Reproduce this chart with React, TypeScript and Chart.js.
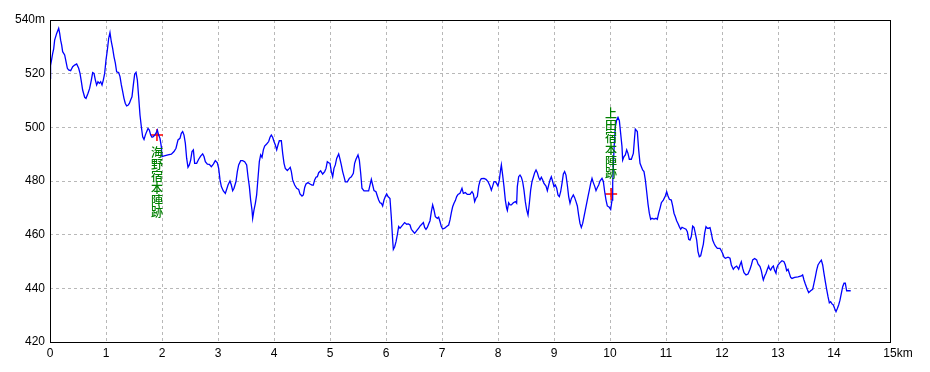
import React, { useEffect, useRef } from "react";
import { Chart, registerables } from "chart.js";

Chart.register(...registerables);

// Distance along the route (km)
const distanceKm = [
  0.0, 0.01, 0.048, 0.065, 0.083, 0.119, 0.155, 0.173, 0.19, 0.208, 0.226, 0.262, 0.286, 0.31, 0.333, 0.369,
  0.405, 0.44, 0.476, 0.512, 0.536, 0.56, 0.583, 0.619, 0.643, 0.679, 0.708, 0.738, 0.762, 0.786, 0.81, 0.833,
  0.857, 0.881, 0.905, 0.929, 0.952, 0.976, 1.0, 1.024, 1.048, 1.071, 1.095, 1.119, 1.143, 1.167, 1.19, 1.226,
  1.25, 1.274, 1.298, 1.321, 1.345, 1.369, 1.393, 1.417, 1.44, 1.464, 1.488, 1.512, 1.536, 1.56, 1.583, 1.607,
  1.631, 1.655, 1.679, 1.702, 1.726, 1.75, 1.774, 1.798, 1.821, 1.845, 1.869, 1.893, 1.917, 1.94, 1.964, 1.988,
  2.0, 2.024, 2.107, 2.167, 2.214, 2.25, 2.286, 2.321, 2.345, 2.369, 2.393, 2.417, 2.44, 2.464, 2.488, 2.512,
  2.536, 2.56, 2.583, 2.619, 2.655, 2.69, 2.726, 2.75, 2.774, 2.81, 2.845, 2.881, 2.917, 2.952, 2.988, 3.012,
  3.036, 3.06, 3.095, 3.131, 3.155, 3.179, 3.214, 3.238, 3.262, 3.286, 3.321, 3.345, 3.369, 3.405, 3.44, 3.476,
  3.512, 3.536, 3.56, 3.583, 3.607, 3.619, 3.643, 3.667, 3.69, 3.714, 3.738, 3.762, 3.786, 3.81, 3.833, 3.869,
  3.905, 3.929, 3.952, 3.976, 4.0, 4.024, 4.048, 4.071, 4.095, 4.131, 4.155, 4.179, 4.202, 4.238, 4.274, 4.29,
  4.31, 4.333, 4.369, 4.405, 4.44, 4.464, 4.5, 4.524, 4.548, 4.571, 4.607, 4.643, 4.679, 4.702, 4.726, 4.75,
  4.774, 4.798, 4.833, 4.869, 4.905, 4.929, 4.952, 4.976, 5.0, 5.024, 5.048, 5.071, 5.095, 5.119, 5.155, 5.179,
  5.202, 5.226, 5.25, 5.274, 5.31, 5.345, 5.381, 5.417, 5.44, 5.464, 5.5, 5.524, 5.548, 5.571, 5.607, 5.643,
  5.69, 5.714, 5.738, 5.762, 5.786, 5.821, 5.845, 5.869, 5.893, 5.917, 5.94, 5.964, 5.988, 6.012, 6.036, 6.071,
  6.095, 6.119, 6.131, 6.155, 6.179, 6.202, 6.226, 6.25, 6.274, 6.31, 6.333, 6.369, 6.4, 6.429, 6.452, 6.488,
  6.512, 6.548, 6.583, 6.607, 6.643, 6.667, 6.69, 6.714, 6.738, 6.762, 6.786, 6.81, 6.833, 6.857, 6.881, 6.917,
  6.94, 6.964, 6.988, 7.012, 7.048, 7.083, 7.119, 7.143, 7.167, 7.19, 7.214, 7.238, 7.262, 7.286, 7.321, 7.357,
  7.381, 7.417, 7.452, 7.5, 7.536, 7.56, 7.583, 7.607, 7.631, 7.655, 7.679, 7.702, 7.75, 7.786, 7.821, 7.857,
  7.881, 7.905, 7.929, 7.952, 7.976, 8.0, 8.024, 8.048, 8.06, 8.083, 8.107, 8.131, 8.155, 8.167, 8.19, 8.214,
  8.238, 8.274, 8.31, 8.333, 8.345, 8.369, 8.393, 8.417, 8.44, 8.464, 8.488, 8.512, 8.536, 8.56, 8.583, 8.607,
  8.631, 8.655, 8.679, 8.702, 8.726, 8.75, 8.774, 8.798, 8.821, 8.857, 8.881, 8.905, 8.929, 8.952, 8.976, 9.0,
  9.024, 9.048, 9.071, 9.095, 9.119, 9.143, 9.167, 9.19, 9.214, 9.238, 9.262, 9.286, 9.31, 9.345, 9.369, 9.393,
  9.417, 9.44, 9.464, 9.488, 9.512, 9.536, 9.56, 9.583, 9.607, 9.631, 9.655, 9.679, 9.702, 9.726, 9.75, 9.774,
  9.798, 9.821, 9.857, 9.881, 9.905, 9.929, 9.952, 9.988, 10.012, 10.036, 10.048, 10.071, 10.095, 10.119, 10.143, 10.167,
  10.19, 10.214, 10.226, 10.25, 10.274, 10.298, 10.321, 10.345, 10.381, 10.417, 10.44, 10.452, 10.488, 10.512, 10.536, 10.56,
  10.583, 10.607, 10.631, 10.655, 10.679, 10.702, 10.726, 10.75, 10.786, 10.821, 10.845, 10.869, 10.893, 10.917, 10.952, 10.988,
  11.012, 11.036, 11.06, 11.095, 11.119, 11.143, 11.167, 11.19, 11.214, 11.238, 11.262, 11.286, 11.321, 11.357, 11.381, 11.405,
  11.429, 11.452, 11.476, 11.5, 11.524, 11.548, 11.571, 11.595, 11.619, 11.643, 11.667, 11.69, 11.714, 11.738, 11.762, 11.786,
  11.81, 11.833, 11.857, 11.881, 11.917, 11.964, 11.988, 12.012, 12.036, 12.06, 12.107, 12.143, 12.167, 12.202, 12.226, 12.262,
  12.298, 12.321, 12.345, 12.369, 12.393, 12.429, 12.464, 12.5, 12.524, 12.548, 12.583, 12.619, 12.643, 12.679, 12.702, 12.726,
  12.738, 12.762, 12.786, 12.81, 12.833, 12.845, 12.869, 12.893, 12.917, 12.94, 12.964, 12.976, 13.0, 13.036, 13.071, 13.107,
  13.131, 13.155, 13.179, 13.202, 13.226, 13.25, 13.298, 13.357, 13.417, 13.44, 13.464, 13.488, 13.524, 13.548, 13.583, 13.619,
  13.643, 13.667, 13.69, 13.714, 13.75, 13.774, 13.798, 13.821, 13.845, 13.869, 13.893, 13.917, 13.94, 13.964, 13.988, 14.012,
  14.036, 14.06, 14.083, 14.107, 14.131, 14.155, 14.179, 14.202, 14.226, 14.298,
];

// Elevation (m)
const elevationM = [
  518.3, 523.0, 527.6, 529.1, 532.5, 535.0, 536.9, 535.0, 532.5, 530.7, 528.2, 527.0, 524.5, 522.0, 521.4, 521.1,
  522.6, 523.2, 523.6, 522.0, 520.1, 517.0, 513.9, 511.2, 510.8, 512.7, 514.5, 517.6, 520.4, 520.1, 517.6, 515.8,
  517.0, 516.4, 517.0, 515.8, 517.6, 520.1, 525.1, 528.8, 533.2, 535.3, 531.9, 529.4, 526.3, 523.9, 520.7, 520.4,
  518.9, 515.8, 513.3, 510.8, 508.9, 508.0, 508.2, 508.9, 510.2, 511.4, 515.8, 519.8, 520.5, 517.6, 511.4, 504.6,
  500.2, 496.5, 495.5, 497.1, 498.4, 499.6, 499.0, 497.1, 496.3, 496.5, 497.1, 497.8, 499.0, 497.1, 495.9, 492.8,
  489.1, 489.3, 489.7, 490.0, 491.0, 492.2, 495.3, 495.9, 497.8, 498.4, 497.1, 494.0, 488.5, 485.1, 486.0, 487.8,
  491.0, 491.6, 486.6, 486.6, 488.1, 489.3, 490.1, 489.1, 487.2, 486.3, 486.2, 485.3, 486.3, 487.6, 486.8, 484.7,
  480.4, 477.9, 476.3, 475.4, 476.9, 478.5, 480.0, 478.5, 476.4, 477.3, 479.8, 483.5, 486.0, 487.6, 487.6, 487.2,
  486.0, 481.6, 477.9, 472.9, 469.2, 466.1, 469.2, 471.7, 474.8, 481.0, 487.2, 489.7, 488.8, 491.6, 493.0, 493.8,
  494.7, 496.3, 497.1, 496.3, 494.7, 493.4, 491.6, 493.4, 495.0, 495.0, 490.3, 486.6, 484.7, 483.9, 484.7, 485.1,
  483.5, 480.4, 478.5, 477.3, 476.9, 475.2, 474.4, 474.8, 477.6, 478.9, 479.4, 478.9, 478.5, 478.5, 480.4, 481.4,
  481.6, 483.1, 483.8, 482.6, 483.5, 484.7, 487.2, 486.8, 486.6, 483.5, 481.6, 484.7, 486.0, 488.4, 490.1, 488.1,
  486.0, 483.5, 481.6, 479.7, 479.7, 481.0, 481.6, 482.9, 486.6, 488.1, 489.7, 487.8, 482.9, 477.3, 476.3, 476.3,
  476.3, 478.5, 480.6, 478.5, 476.4, 476.0, 474.4, 472.9, 471.9, 471.7, 470.7, 472.9, 474.2, 475.2, 474.2, 473.5,
  466.5, 458.0, 454.5, 455.5, 457.4, 459.9, 463.0, 462.4, 463.0, 463.9, 464.5, 463.9, 464.0, 463.6, 462.0, 461.1,
  460.5, 461.5, 462.4, 463.2, 464.0, 464.5, 462.7, 462.0, 462.7, 464.0, 465.2, 468.6, 471.1, 469.2, 466.7, 466.1,
  466.5, 464.9, 463.0, 462.1, 462.4, 463.0, 463.6, 465.5, 468.2, 470.4, 471.7, 472.7, 474.2, 475.0, 475.4, 477.3,
  475.4, 475.7, 475.0, 475.0, 476.0, 475.2, 472.3, 473.6, 474.2, 478.1, 480.1, 480.9, 481.0, 480.6, 479.8, 478.1,
  476.6, 478.1, 479.8, 479.8, 479.1, 478.1, 480.4, 484.4, 486.0, 482.2, 477.9, 472.9, 469.8, 469.0, 471.9, 471.1,
  471.1, 471.9, 472.3, 471.7, 477.9, 481.6, 482.2, 481.4, 479.8, 476.6, 472.3, 469.2, 467.3, 471.7, 476.6, 479.8,
  481.4, 483.1, 484.1, 483.1, 481.4, 480.4, 481.4, 480.4, 479.1, 478.1, 476.4, 478.5, 480.4, 481.6, 479.8, 477.9,
  478.5, 477.3, 474.8, 474.2, 476.0, 479.1, 482.6, 483.5, 482.2, 478.5, 474.2, 471.7, 473.5, 474.8, 473.8, 472.3,
  470.7, 467.3, 464.2, 462.7, 464.2, 466.7, 469.2, 471.7, 474.2, 476.6, 479.1, 481.0, 479.4, 478.1, 476.4, 477.6,
  478.5, 480.0, 481.0, 479.8, 476.0, 472.9, 470.7, 470.2, 469.4, 472.9, 479.1, 491.6, 500.2, 502.7, 503.7, 502.5,
  497.8, 492.8, 487.8, 489.1, 489.7, 491.6, 490.3, 488.1, 488.1, 490.3, 496.5, 499.3, 498.4, 491.6, 486.6, 485.3,
  484.1, 483.5, 480.4, 476.0, 471.4, 468.0, 465.7, 466.1, 465.8, 466.1, 465.7, 468.0, 469.8, 471.9, 472.9, 474.4,
  476.0, 474.4, 473.2, 472.9, 470.7, 468.0, 466.7, 465.2, 464.2, 463.0, 462.0, 462.7, 462.4, 462.0, 461.1, 458.3,
  458.0, 459.3, 463.2, 462.7, 460.5, 458.0, 453.7, 451.8, 452.1, 454.3, 456.5, 460.5, 463.0, 462.4, 462.4, 462.6,
  460.5, 458.0, 456.8, 455.8, 454.9, 454.9, 454.0, 453.0, 451.6, 451.2, 451.6, 451.2, 448.7, 447.1, 447.8, 448.3,
  447.1, 448.7, 449.9, 447.5, 445.8, 445.0, 445.3, 447.1, 448.7, 450.6, 451.1, 450.6, 449.1, 448.1, 446.6, 444.1,
  443.1, 444.6, 445.6, 447.1, 448.3, 447.4, 446.8, 447.8, 448.3, 446.6, 445.6, 447.4, 448.7, 449.6, 450.3, 449.9,
  448.7, 446.6, 447.1, 445.6, 444.1, 443.7, 444.1, 444.3, 444.6, 445.0, 443.1, 441.6, 439.6, 438.4, 439.1, 439.6,
  441.9, 444.3, 446.8, 448.7, 449.9, 450.5, 448.7, 445.6, 442.5, 439.6, 436.9, 434.6, 435.0, 434.2, 433.8, 432.5,
  431.3, 432.5, 433.8, 435.6, 438.1, 440.6, 441.9, 441.9, 439.1, 439.1,
];

// Landmarks
const markerNames = ["海野宿本陣跡", "上田宿本陣跡"];
const markerKm = [1.91, 10.02];
const markerElev = [497.1, 475.2];
const markerTextBelow = [true, false];

const X_MIN = 0;
const X_MAX = 15;
const Y_MIN = 420;
const Y_MAX = 540;

const TICK_FONT = "12px 'Liberation Sans', Arial, sans-serif";
const JP_FONT = "500 12px 'Noto Sans CJK JP', sans-serif";

const overlayPlugin = {
  id: "overlay",
  afterDatasetsDraw(chart: any) {
    const { ctx, chartArea: a, scales } = chart;
    const xs = scales.x;
    const ys = scales.y;
    ctx.save();
    // plot frame
    ctx.strokeStyle = "#000000";
    ctx.lineWidth = 1;
    ctx.strokeRect(Math.round(a.left) + 0.5, Math.round(a.top) + 0.5, Math.round(a.right - a.left), Math.round(a.bottom - a.top));
    // vertical landmark labels
    ctx.font = JP_FONT;
    ctx.fillStyle = "#008000";
    ctx.textAlign = "center";
    ctx.textBaseline = "top";
    markerNames.forEach((name, i) => {
      const px = xs.getPixelForValue(markerKm[i]);
      const py = ys.getPixelForValue(markerElev[i]);
      const chars = Array.from(name);
      const step = 12;
      const start = markerTextBelow[i] ? py + 11 : py - 14 - step * chars.length;
      chars.forEach((c, k) => ctx.fillText(c, px, start + k * step));
    });
    ctx.restore();
  },
  afterDraw(chart: any) {
    const { ctx, scales } = chart;
    const xs = scales.x;
    ctx.save();
    ctx.font = TICK_FONT;
    ctx.fillStyle = "#000000";
    ctx.textAlign = "left";
    ctx.textBaseline = "middle";
    const w = ctx.measureText(String(X_MAX)).width;
    ctx.fillText("km", xs.getPixelForValue(X_MAX) + w / 2, xs.top + 4 + 7.2);
    ctx.restore();
  },
};

export default function App() {
  const canvasRef = useRef<HTMLCanvasElement | null>(null);

  useEffect(() => {
    document.body.style.margin = "0";
    const canvas = canvasRef.current;
    if (!canvas) return;

    const lineData = distanceKm.map((d, i) => ({ x: d, y: elevationM[i] }));
    const markerData = markerKm.map((d, i) => ({ x: d, y: markerElev[i] }));

    const chart = new Chart(canvas, {
      type: "scatter",
      data: {
        datasets: [
          {
            type: "line",
            data: lineData,
            borderColor: "#0000ff",
            borderWidth: 1.3,
            pointRadius: 0,
            tension: 0,
            fill: false,
          } as any,
          {
            type: "scatter",
            data: markerData,
            pointStyle: "cross",
            pointRadius: 6,
            borderColor: "#ff0000",
            backgroundColor: "#ff0000",
            borderWidth: 1.5,
          } as any,
        ],
      },
      options: {
        responsive: false,
        animation: false,
        devicePixelRatio: 1,
        layout: { padding: { top: 20, right: 40, left: 0, bottom: 0 } },
        plugins: {
          legend: { display: false },
          tooltip: { enabled: false },
        },
        scales: {
          x: {
            type: "linear",
            min: X_MIN,
            max: X_MAX,
            afterFit: (s: any) => {
              s.height = 30;
            },
            ticks: {
              stepSize: 1,
              padding: 4,
              color: "#000000",
              font: { family: "'Liberation Sans', Arial, sans-serif", size: 12 },
              maxRotation: 0,
              autoSkip: false,
              callback: (v: any) => String(v),
            },
            grid: { color: "#b8b8b8", drawTicks: false, lineWidth: 1 },
            border: { display: false, dash: [3, 3] },
          },
          y: {
            type: "linear",
            min: Y_MIN,
            max: Y_MAX,
            afterFit: (s: any) => {
              s.width = 50;
            },
            ticks: {
              stepSize: 20,
              padding: 5,
              color: "#000000",
              font: { family: "'Liberation Sans', Arial, sans-serif", size: 12 },
              callback: (v: any) => (v === Y_MAX ? `${v}m` : String(v)),
            },
            grid: { color: "#b8b8b8", drawTicks: false, lineWidth: 1 },
            border: { display: false, dash: [3, 3] },
          },
        },
      },
      plugins: [overlayPlugin],
    });

    return () => chart.destroy();
  }, []);

  return (
    <div style={{ width: 930, height: 372 }}>
      <canvas ref={canvasRef} width={930} height={372} style={{ display: "block" }} />
    </div>
  );
}
